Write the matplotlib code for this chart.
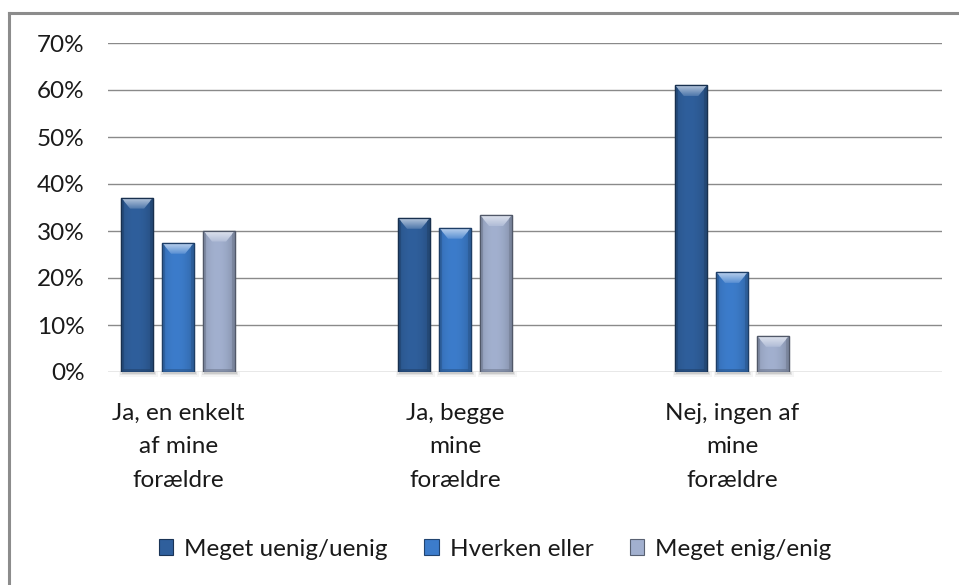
import numpy as np
import matplotlib
matplotlib.use("Agg")
import matplotlib.pyplot as plt
from matplotlib.patches import Rectangle, Polygon
from matplotlib.lines import Line2D
from matplotlib.colors import to_rgb
from matplotlib.ticker import FuncFormatter

# ---- data -------------------------------------------------------------
categories = ["Ja, en enkelt\naf mine\nforældre",
              "Ja, begge\nmine\nforældre",
              "Nej, ingen af\nmine\nforældre"]
series_names = ["Meget uenig/uenig", "Hverken eller", "Meget enig/enig"]
uenig = [37.1, 32.8, 61.0]
hverken = [27.5, 30.7, 21.3]
enig = [30.1, 33.4, 7.7]
yticks = [0, 10, 20, 30, 40, 50, 60, 70]

series_values = [uenig, hverken, enig]
colors = ["#2f5f9c", "#3c7ccb", "#a2b0cf"]

plt.rcParams["font.family"] = ["Lato", "DejaVu Sans"]

W, H = 959, 585
fig = plt.figure(figsize=(W / 100, H / 100), dpi=100)
fig.patch.set_facecolor("white")

# plot area in pixels
L, R, T, B = 108, 942, 43, 372
ax = fig.add_axes([L / W, 1 - B / H, (R - L) / W, (B - T) / H])

xlim = (-0.253, 2.758)
ylim = (0, 70)
ax.set_xlim(*xlim)
ax.set_ylim(*ylim)
px_x = (xlim[1] - xlim[0]) / (R - L)
px_y = (ylim[1] - ylim[0]) / (B - T)

bar_w = 32 * px_x
step = 41 * px_x
x = np.arange(len(categories))


def mix(c, other, t):
    c = np.array(to_rgb(c))
    o = np.array(to_rgb(other))
    return tuple(c * (1 - t) + o * t)


def vgrad(c_top, c_bot, n=32):
    a = np.linspace(0, 1, n)[:, None]
    top = np.array(c_top)[None, :]
    bot = np.array(c_bot)[None, :]
    return (top * (1 - a) + bot * a)[:, None, :]


def bevel_bar(x0, width, height, color, zorder=3):
    x1 = x0 + width
    # soft shadow under the bar
    for k, alpha in enumerate([0.10, 0.07, 0.04]):
        grow = (k + 1) * 1.5 * px_x
        ax.add_patch(Rectangle((x0 - grow + 2 * px_x, -(k + 1) * 1.6 * px_y),
                               width + 2 * grow - 2 * px_x, (k + 1) * 1.6 * px_y,
                               facecolor="black", edgecolor="none", alpha=alpha,
                               zorder=zorder - 1, clip_on=False))
    body = Rectangle((x0, 0), width, height, facecolor=color,
                     edgecolor=mix(color, "black", 0.45), linewidth=0.9,
                     zorder=zorder)
    ax.add_patch(body)
    # horizontal shading across the face
    hg = np.linspace(0, 1, 40)
    shade = 1 - 0.18 * (np.abs(hg - 0.45) / 0.55) ** 2
    base = np.array(to_rgb(color))
    img = np.clip(base[None, None, :] * shade[None, :, None], 0, 1)
    im = ax.imshow(img, extent=[x0, x1, 0, height], aspect="auto",
                   zorder=zorder, interpolation="bilinear")
    im.set_clip_path(body)
    sx = 9 * px_x
    sy = min(11 * px_y, height * 0.5)
    # top bevel highlight
    top_poly = Polygon([(x0, height), (x1, height), (x1 - sx, height - sy),
                        (x0 + sx, height - sy)], closed=True,
                       facecolor="none", edgecolor="none", zorder=zorder)
    ax.add_patch(top_poly)
    g = vgrad(mix(color, "white", 0.65), mix(color, "white", 0.15))
    gi = ax.imshow(g, extent=[x0, x1, height - sy, height], aspect="auto",
                   zorder=zorder + 0.1, interpolation="bilinear")
    gi.set_clip_path(top_poly)
    # darker side bevels
    ss = 3 * px_x
    for pts in ([(x0, 0), (x0 + ss, 2 * px_y), (x0 + ss, height - sy * 0.3),
                 (x0, height)],
                [(x1, 0), (x1 - ss, 2 * px_y), (x1 - ss, height - sy * 0.3),
                 (x1, height)]):
        ax.add_patch(Polygon(pts, closed=True,
                             facecolor=mix(color, "black", 0.3),
                             edgecolor="none", alpha=0.6, zorder=zorder + 0.2))
    # bottom bevel
    ax.add_patch(Polygon([(x0, 0), (x1, 0), (x1 - ss, 3 * px_y),
                          (x0 + ss, 3 * px_y)], closed=True,
                         facecolor=mix(color, "black", 0.35), edgecolor="none",
                         alpha=0.5, zorder=zorder + 0.2))
    ax.add_patch(Rectangle((x0, 0), width, height, facecolor="none",
                           edgecolor=mix(color, "black", 0.5), linewidth=0.9,
                           zorder=zorder + 0.3))


for i, (vals, col) in enumerate(zip(series_values, colors)):
    for xi, v in zip(x, vals):
        bevel_bar(xi + (i - 1) * step - bar_w / 2, bar_w, v, col)

ax.set_xlim(*xlim)
ax.set_ylim(*ylim)

# gridlines and axes
ax.set_yticks(yticks)
ax.yaxis.set_major_formatter(FuncFormatter(lambda v, p: f"{v:.0f}%"))
ax.grid(axis="y", color="#8a8a8a", linewidth=1.0, zorder=0)
ax.set_axisbelow(True)
for s in ax.spines.values():
    s.set_visible(False)
ax.tick_params(axis="y", length=0, pad=17, labelsize=17.5, colors="#1a1a1a")
ax.set_xticks(x)
ax.set_xticklabels(categories, linespacing=1.75)
ax.tick_params(axis="x", length=0, pad=22, labelsize=17.5, colors="#1a1a1a")
ax.set_facecolor("none")

# legend
handles = [Rectangle((0, 0), 1, 1, facecolor=c,
                     edgecolor=mix(c, "black", 0.45), linewidth=0.8)
           for c in colors]
fig.legend(handles, series_names, loc="center",
           bbox_to_anchor=(495 / W, 1 - 549 / H), ncol=3, frameon=False,
           fontsize=17.5, handlelength=0.6, handleheight=0.6,
           handletextpad=0.45, columnspacing=1.5, labelcolor="#1a1a1a")

# outer chart border (top and left edges visible)
lw = 2.2
yb = 1 - 12.5 / H
xb = 9 / W
fig.add_artist(Line2D([xb, 1.0], [yb, yb], color="#8c8c8c", linewidth=lw,
                      transform=fig.transFigure))
fig.add_artist(Line2D([xb, xb], [0, yb], color="#8c8c8c", linewidth=lw,
                      transform=fig.transFigure))

fig.savefig("out.png", dpi=100, facecolor="white")
